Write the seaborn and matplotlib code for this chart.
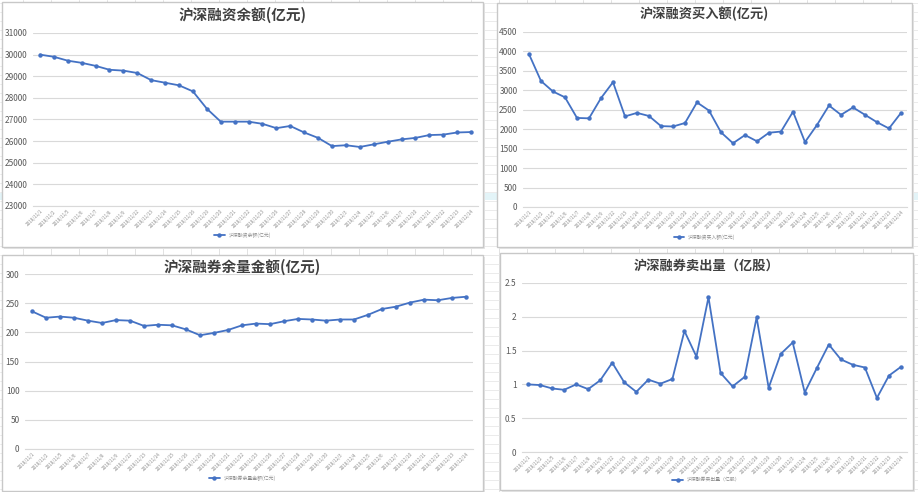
import numpy as np
import pandas as pd
import seaborn as sns
from matplotlib import pyplot as plt
from matplotlib.patches import Rectangle

# trading days, Nov - Dec 2018 (tick labels are too blurred to read exactly)
dates = ["2018/11/1", "2018/11/2", "2018/11/5", "2018/11/6", "2018/11/7", "2018/11/8",
         "2018/11/9", "2018/11/12", "2018/11/13", "2018/11/14", "2018/11/15", "2018/11/16",
         "2018/11/19", "2018/11/20", "2018/11/21", "2018/11/22", "2018/11/23", "2018/11/26",
         "2018/11/27", "2018/11/28", "2018/11/29", "2018/11/30", "2018/12/3", "2018/12/4",
         "2018/12/5", "2018/12/6", "2018/12/7", "2018/12/10", "2018/12/11", "2018/12/12",
         "2018/12/13", "2018/12/14"]

margin_balance = [30000, 29900, 29720, 29620, 29480, 29300, 29260, 29150, 28820, 28700,
                  28580, 28300, 27500, 26900, 26900, 26900, 26800, 26600, 26700, 26400,
                  26150, 25770, 25810, 25730, 25850, 25970, 26080, 26150, 26280, 26300,
                  26400, 26420]
margin_buy = [3930, 3240, 2970, 2820, 2290, 2280, 2800, 3210, 2330, 2420, 2340, 2080,
              2070, 2160, 2690, 2480, 1920, 1640, 1850, 1690, 1910, 1940, 2450, 1670,
              2110, 2610, 2370, 2560, 2370, 2180, 2020, 2420]
short_balance = [236, 225, 227, 225, 220, 216, 221, 220, 211, 213, 212, 205, 195, 199,
                 204, 212, 215, 214, 219, 223, 222, 220, 222, 222, 230, 240, 244, 251,
                 256, 255, 259, 261]
short_sell = [1.00, 0.99, 0.94, 0.92, 1.00, 0.93, 1.06, 1.32, 1.03, 0.89, 1.07, 1.01,
              1.08, 1.79, 1.41, 2.29, 1.17, 0.97, 1.11, 1.99, 0.95, 1.45, 1.62, 0.88,
              1.24, 1.59, 1.37, 1.29, 1.25, 0.80, 1.13, 1.26]

titles = ["沪深融资余额(亿元)", "沪深融资买入额(亿元)", "沪深融券余量金额(亿元)", "沪深融券卖出量（亿股）"]
series = [margin_balance, margin_buy, short_balance, short_sell]

W, H = 918, 492
BLUE = "#4472C4"
GRID = "#D9D9D9"
TXT = "#595959"

sns.set_theme(style="white")
plt.rcParams["font.family"] = ["Noto Sans CJK SC", "DejaVu Sans"]

fig = plt.figure(figsize=(W / 100, H / 100), dpi=100)

# spreadsheet background
bg = fig.add_axes([0, 0, 1, 1])
bg.set_xlim(0, W)
bg.set_ylim(H, 0)
bg.axis("off")
bg.add_patch(Rectangle((0, 193), W, 7, color="#E3F4F8", lw=0, zorder=0))
for x in np.arange(23, W, 28):
    bg.axvline(x, color="#E2E2E2", lw=0.7, zorder=1)
for y in np.arange(3, H, 9):
    bg.axhline(y, color="#E8E8E8", lw=0.6, zorder=1)

# panel boxes: (left, top, right, bottom) in px
boxes = [(2, 2, 483, 247), (497, 3, 912, 247), (2, 255, 483, 491), (500, 253, 913, 490)]
# plot areas: (left, top, right, bottom) px
areas = [(33, 33, 478, 206), (523, 32, 907, 207), (25, 274, 473, 449), (522, 283, 907, 452)]
ylims = [(23000, 31000, 1000), (0, 4500, 500), (0, 300, 50), (0, 2.5, 0.5)]
title_y = [15, 14, 267, 266]
title_size = [10.5, 9.5, 10.5, 9.5]
legend_y = [235, 237, 478, 480]

for box in boxes:
    l, t, r, b = box
    bg.add_patch(Rectangle((l + 1.5, t + 1.5), r - l, b - t, facecolor="#E6E6E6", lw=0, zorder=2))
    bg.add_patch(Rectangle((l, t), r - l, b - t, facecolor="white", edgecolor="#C8C8C8", lw=1, zorder=3))

for i in range(4):
    l, t, r, b = areas[i]
    ax = fig.add_axes([l / W, 1 - b / H, (r - l) / W, (b - t) / H])
    ax.patch.set_alpha(0)
    df = pd.DataFrame({"date": dates, "value": series[i]})
    df["pos"] = np.arange(len(df))
    sns.lineplot(data=df, x="pos", y="value", ax=ax, color=BLUE, lw=1.3,
                 marker="o", markersize=3.2, markeredgewidth=0, label=titles[i])
    lo, hi, step = ylims[i]
    ax.set_ylim(lo, hi)
    ax.set_yticks(np.arange(lo, hi + step / 2, step))
    ax.set_yticklabels([f"{v:g}" for v in np.arange(lo, hi + step / 2, step)])
    ax.set_xlim(-0.5, len(dates) - 0.5)
    ax.set_xticks(df["pos"])
    ax.set_xticklabels(dates, rotation=45, ha="right", rotation_mode="anchor",
                       fontsize=3.3, color="#8C8C8C")
    ax.grid(axis="y", color=GRID, lw=0.8)
    ax.set_axisbelow(True)
    for s in ["top", "right", "left"]:
        ax.spines[s].set_visible(False)
    ax.spines["bottom"].set_color(GRID)
    ax.spines["bottom"].set_linewidth(0.8)
    ax.tick_params(axis="y", labelsize=6, colors=TXT, length=0, pad=4)
    ax.tick_params(axis="x", length=0, pad=2)
    ax.set_xlabel("")
    ax.set_ylabel("")
    bl, bt, br, bb = boxes[i]
    fig.text(((bl + br) / 2) / W, 1 - title_y[i] / H, titles[i], ha="center", va="center",
             fontsize=title_size[i], fontweight="bold", color="#404040")
    ax.legend(loc="center", bbox_to_anchor=(((bl + br) / 2) / W, 1 - legend_y[i] / H),
              bbox_transform=fig.transFigure, frameon=False, fontsize=3.5,
              handlelength=2.2, labelcolor="#8C8C8C")

fig.savefig("out.png", dpi=100)
